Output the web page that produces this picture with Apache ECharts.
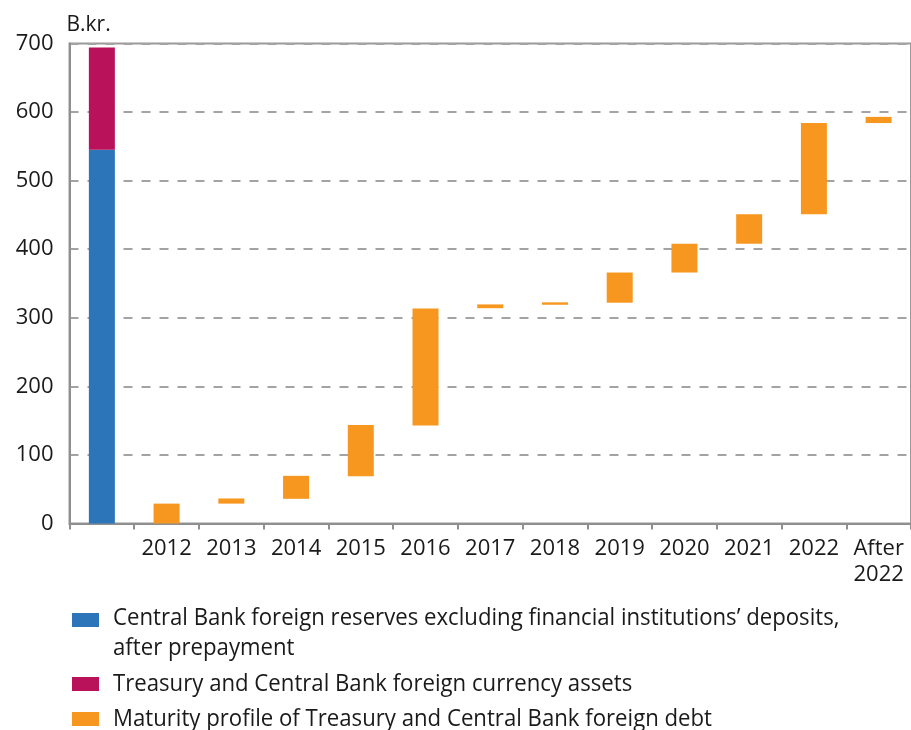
<!DOCTYPE html>
<html>
<head>
<meta charset="utf-8">
<script src="https://cdn.jsdelivr.net/npm/echarts@6/dist/echarts.min.js"></script>
<style>
html,body{margin:0;padding:0;background:#fff;}
#chart{width:911px;height:730px;}
</style>
</head>
<body>
<div id="chart"></div>
<script>
// ---- data ----
const categories = ['', '2012', '2013', '2014', '2015', '2016', '2017', '2018', '2019', '2020', '2021', '2022', 'After\n2022'];
const reserves   = [545, '-', '-', '-', '-', '-', '-', '-', '-', '-', '-', '-', '-'];
const fxAssets   = [149, '-', '-', '-', '-', '-', '-', '-', '-', '-', '-', '-', '-'];
const debtBase   = ['-', 0, 29, 36, 69, 143, 314, 319, 322, 366, 408, 451, 584];
const debtValue  = ['-', 29, 7.5, 33.5, 74.5, 170.5, 5.5, 3.5, 44, 42, 43, 133, 9];
const yTicks = { min: 0, max: 700, interval: 100 };
const unitLabel = 'B.kr.';
const seriesNames = [
  'Central Bank foreign reserves excluding financial institutions’ deposits, after prepayment',
  'Treasury and Central Bank foreign currency assets',
  'Maturity profile of Treasury and Central Bank foreign debt'
];
const legendLines = [
  ['Central Bank foreign reserves excluding financial institutions’ deposits,', 'after prepayment'],
  ['Treasury and Central Bank foreign currency assets'],
  ['Maturity profile of Treasury and Central Bank foreign debt']
];
const colors = ['#2C75B9', '#BA125A', '#F7971F'];

// ---- legend text width fit ----
const legendFont = '23px "Open Sans"';
const ctx = document.createElement('canvas').getContext('2d');
ctx.font = legendFont;
const sx = 599 / ctx.measureText(legendLines[2][0]).width;

const textColor = '#1a1a1a';
const axisGray = '#8f8f8f';

const legendGraphic = [];
const iconY = [613, 677, 712];
const lineY = [[618, 648], [684], [719]];
legendLines.forEach((lines, i) => {
  legendGraphic.push({
    type: 'rect', left: 72, top: iconY[i],
    shape: { width: 27, height: 14 },
    style: { fill: colors[i] }
  });
  lines.forEach((t, j) => {
    legendGraphic.push({
      type: 'text', x: 113, y: lineY[i][j], scaleX: sx,
      style: { text: t, font: legendFont, fill: textColor, verticalAlign: 'middle', align: 'left' }
    });
  });
});

const chart = echarts.init(document.getElementById('chart'), null, { renderer: 'canvas' });
chart.setOption({
  animation: false,
  backgroundColor: '#fff',
  grid: {
    left: 69.5, top: 43.5, width: 843, height: 480,
    show: true, borderColor: '#9a9a9a', borderWidth: 2, backgroundColor: 'transparent'
  },
  xAxis: {
    type: 'category',
    data: categories,
    axisLine: { show: true, lineStyle: { color: axisGray, width: 2 } },
    axisTick: { show: true, length: 6, lineStyle: { color: axisGray, width: 2 } },
    axisLabel: { interval: 0, fontSize: 22, fontFamily: 'Open Sans', color: textColor, margin: 12, lineHeight: 26 },
    splitLine: { show: false }
  },
  yAxis: {
    type: 'value',
    min: yTicks.min, max: yTicks.max, interval: yTicks.interval,
    name: unitLabel,
    nameLocation: 'end',
    nameGap: 8,
    nameTextStyle: { fontSize: 21, fontFamily: 'Open Sans', color: textColor, align: 'left', padding: [0, 0, 0, -3] },
    axisLine: { show: true, lineStyle: { color: axisGray, width: 2 } },
    axisTick: { show: false },
    axisLabel: { fontSize: 22, fontFamily: 'Open Sans', color: textColor, margin: 16 },
    splitLine: { show: true, lineStyle: { type: [9, 9], color: '#a3a3a3', width: 2 } }
  },
  series: [
    { name: seriesNames[0], type: 'bar', stack: 'res', data: reserves, barWidth: 26, barGap: '-100%', itemStyle: { color: colors[0] } },
    { name: seriesNames[1], type: 'bar', stack: 'res', data: fxAssets, barWidth: 26, barGap: '-100%', itemStyle: { color: colors[1] } },
    { name: 'base', type: 'bar', stack: 'debt', data: debtBase, barWidth: 26, barGap: '-100%', itemStyle: { color: 'transparent' }, silent: true },
    { name: seriesNames[2], type: 'bar', stack: 'debt', data: debtValue, barWidth: 26, barGap: '-100%', itemStyle: { color: colors[2] } }
  ],
  graphic: legendGraphic
});
</script>
</body>
</html>
